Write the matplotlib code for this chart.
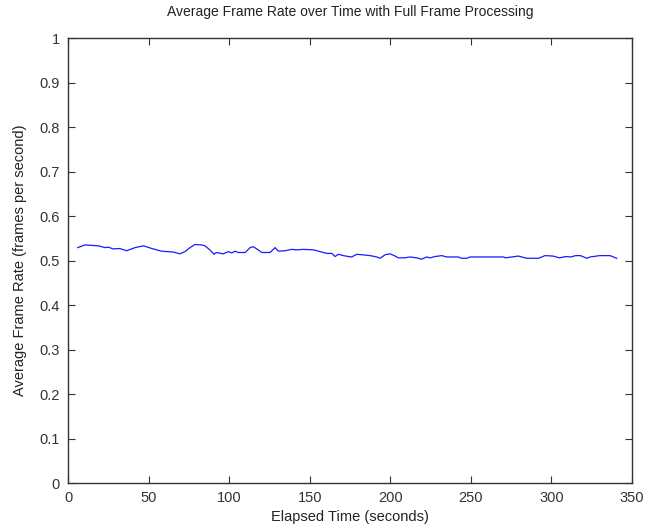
import matplotlib
matplotlib.use("Agg")
import matplotlib.pyplot as plt

# elapsed time (s) and average frame rate (fps)
time_s = [6.0, 10.5, 18.8, 23.0, 25.0, 28.0, 32.0, 36.4, 41.6, 46.8, 52.0, 58.0,
          65.4, 69.5, 72.6, 75.7, 78.8, 83.0, 85.0, 88.0, 90.6, 91.9, 96.4, 99.5,
          101.6, 103.7, 105.7, 110.0, 113.0, 115.0, 118.0, 120.2, 125.4, 128.5,
          130.5, 134.7, 138.8, 142.0, 146.0, 152.3, 156.4, 160.6, 163.7, 165.7,
          167.8, 170.9, 174.0, 176.0, 179.2, 182.3, 187.5, 191.6, 193.7, 196.8,
          199.9, 203.0, 205.0, 209.0, 212.3, 216.4, 219.5, 222.6, 224.7, 227.8,
          232.0, 235.0, 242.3, 244.0, 247.5, 249.5, 253.7, 265.0, 270.3, 271.4,
          279.5, 284.7, 292.0, 296.0, 301.0, 305.0, 309.0, 312.0, 315.0, 318.0,
          322.0, 324.0, 330.0, 336.4, 340.5]
frame_rate = [0.529, 0.535, 0.533, 0.529, 0.530, 0.526, 0.527, 0.522, 0.529, 0.533,
              0.527, 0.521, 0.519, 0.515, 0.520, 0.529, 0.536, 0.535, 0.533, 0.524,
              0.514, 0.518, 0.515, 0.520, 0.517, 0.521, 0.518, 0.518, 0.529, 0.531,
              0.524, 0.518, 0.518, 0.529, 0.521, 0.522, 0.525, 0.524, 0.525, 0.524,
              0.520, 0.516, 0.516, 0.509, 0.514, 0.511, 0.509, 0.508, 0.514, 0.513,
              0.511, 0.508, 0.505, 0.513, 0.515, 0.510, 0.506, 0.506, 0.508, 0.506,
              0.503, 0.508, 0.506, 0.509, 0.511, 0.508, 0.508, 0.505, 0.505, 0.508,
              0.508, 0.508, 0.508, 0.506, 0.510, 0.505, 0.505, 0.511, 0.510, 0.506,
              0.509, 0.508, 0.511, 0.511, 0.505, 0.508, 0.511, 0.511, 0.505]

x_ticks = [0, 50, 100, 150, 200, 250, 300, 350]
y_ticks = [0, 0.1, 0.2, 0.3, 0.4, 0.5, 0.6, 0.7, 0.8, 0.9, 1]
y_labels = ["0", "0.1", "0.2", "0.3", "0.4", "0.5", "0.6", "0.7", "0.8", "0.9", "1"]

plt.rcParams["font.family"] = ["Liberation Sans", "DejaVu Sans"]

fig = plt.figure(figsize=(6.56, 5.28), dpi=100)
ax = fig.add_axes([0.1037, 0.0852, 0.8597, 0.8428])
ax.plot(time_s, frame_rate, color="#1a1aff", linewidth=0.9)

ax.set_xlim(0, 350)
ax.set_ylim(0, 1)
ax.set_xticks(x_ticks)
ax.set_yticks(y_ticks)
ax.set_yticklabels(y_labels)
ax.tick_params(direction="in", top=True, right=True, length=5, width=0.8,
               labelsize=10.5, colors="#333333", pad=6)
for sp in ax.spines.values():
    sp.set_linewidth(1.0)
    sp.set_color("#333333")

ax.set_xlabel("Elapsed Time (seconds)", fontsize=10.5, color="#222222", labelpad=3)
ax.set_ylabel("Average Frame Rate (frames per second)", fontsize=10.5,
              color="#222222", labelpad=9)
ax.set_title("Average Frame Rate over Time with Full Frame Processing",
             fontsize=10, color="#222222", pad=16)

fig.savefig("out.png", dpi=100)
